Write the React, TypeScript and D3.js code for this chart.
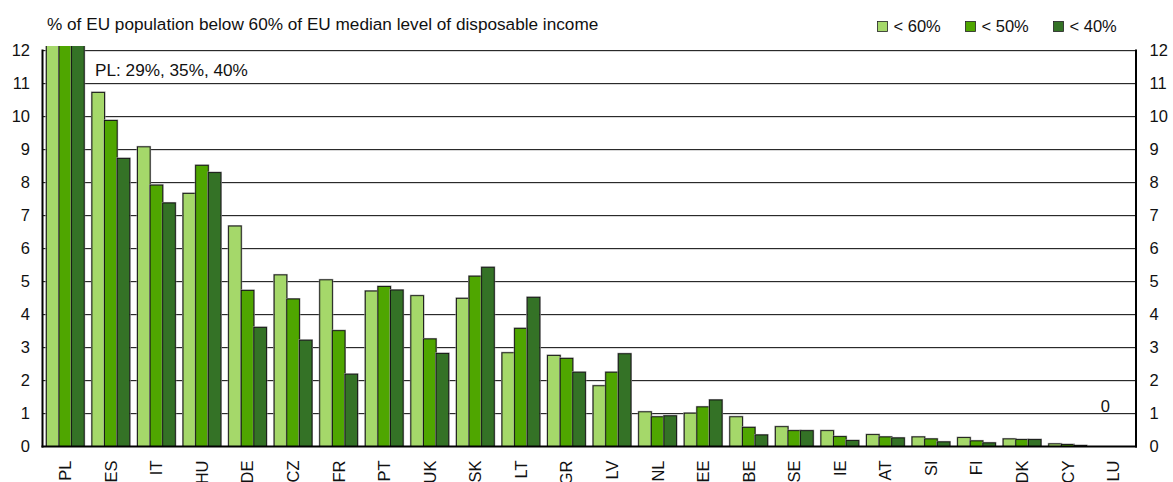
import React from "react";
import * as d3 from "d3";

const countries = ["PL","ES","IT","HU","DE","CZ","FR","PT","UK","SK","LT","GR","LV","NL","EE","BE","SE","IE","AT","SI","FI","DK","CY","LU"];
const seriesNames = ["< 60%", "< 50%", "< 40%"];
const below60 = [29, 10.73, 9.08, 7.67, 6.68, 5.2, 5.05, 4.71, 4.57, 4.49, 2.84, 2.76, 1.84, 1.05, 1.01, 0.9, 0.6, 0.48, 0.36, 0.29, 0.27, 0.23, 0.08, 0];
const below50 = [35, 9.88, 7.92, 8.52, 4.73, 4.47, 3.51, 4.85, 3.26, 5.16, 3.58, 2.67, 2.25, 0.9, 1.2, 0.58, 0.48, 0.3, 0.29, 0.23, 0.17, 0.21, 0.06, 0];
const below40 = [40, 8.73, 7.38, 8.3, 3.61, 3.22, 2.19, 4.74, 2.82, 5.43, 4.52, 2.25, 2.81, 0.93, 1.41, 0.35, 0.48, 0.18, 0.26, 0.14, 0.11, 0.21, 0.03, 0];
const yTicks = [0,1,2,3,4,5,6,7,8,9,10,11,12];
const colors = ["#a5d86a", "#4fa600", "#347226"];
const titleText = "% of EU population below 60% of EU median level of disposable income";
const plNote = "PL: 29%, 35%, 40%";
const luNote = "0";

const W = 1173, H = 482;
const L = 42.5, R = 1136, T = 50.5, B = 446.5;
const FONT = "'Liberation Sans', Arial, sans-serif";

export default function App() {
  const series = [below60, below50, below40];
  const x0 = d3.scaleBand().domain(countries).range([L, R]).paddingInner(0.17).paddingOuter(0.085);
  const x1 = d3.scaleBand().domain(seriesNames).range([0, x0.bandwidth()]);
  const y = d3.scaleLinear().domain([0, 12]).range([B, T]);
  const luCenter = (x0("LU") as number) + x0.bandwidth() / 2;

  return (
    <svg width={W} height={H} style={{ position: "absolute", left: 0, top: 0, background: "#fff" }} fontFamily={FONT}>
      <defs>
        <clipPath id="plot">
          <rect x={L} y={T - 4.5} width={R - L} height={B - T + 4.5} />
        </clipPath>
      </defs>
      <text x={47} y={29.5} fontSize={17.2} fill="#111">{titleText}</text>
      {/* legend */}
      {seriesNames.map((s, i) => (
        <g key={s} transform={`translate(${877.5 + i * 88},21.5)`}>
          <rect width={10} height={10} fill={colors[i]} stroke="#222" strokeWidth={0.8} />
          <text x={16} y={10.3} fontSize={16.5} fill="#111">{s}</text>
        </g>
      ))}
      {/* gridlines */}
      {yTicks.filter(t => t > 0).map(t => (
        <g key={t}>
          <line x1={L} x2={R} y1={y(t) + 1} y2={y(t) + 1} stroke="#d8d8d8" strokeWidth={1} />
          <line x1={L} x2={R} y1={y(t)} y2={y(t)} stroke="#2a2a2a" strokeWidth={1} />
        </g>
      ))}
      {/* bars */}
      <g clipPath="url(#plot)">
        {countries.map((c, ci) => (
          <g key={c} transform={`translate(${x0(c)},0)`}>
            {series.map((vals, si) => {
              const v = vals[ci];
              if (v <= 0) return null;
              const bx = x1(seriesNames[si]) as number;
              const bw = x1.bandwidth();
              const top = y(v);
              return (
                <g key={si}>
                  <rect x={bx - 0.5} y={top - 0.5} width={bw + 1} height={B - top + 0.5} fill="none" stroke="#9a9a9a" strokeWidth={1} />
                  <rect x={bx} y={top} width={bw} height={B - top} fill={colors[si]} stroke="#111" strokeWidth={0.9} />
                </g>
              );
            })}
          </g>
        ))}
      </g>
      {/* axes */}
      <line x1={L} x2={L} y1={T - 1} y2={B + 1} stroke="#000" strokeWidth={2} />
      <line x1={R} x2={R} y1={T - 1} y2={B + 1} stroke="#000" strokeWidth={2} />
      <line x1={L - 1} x2={R + 1} y1={B} y2={B} stroke="#000" strokeWidth={2} />
      {yTicks.map(t => (
        <g key={t}>
          <text x={30} y={y(t)} dy="0.36em" textAnchor="end" fontSize={16.5} fill="#111">{t}</text>
          <text x={1149.5} y={y(t)} dy="0.36em" textAnchor="start" fontSize={16.5} fill="#111">{t}</text>
        </g>
      ))}
      {/* category labels */}
      {countries.map(c => {
        const cx = (x0(c) as number) + x0.bandwidth() / 2;
        return (
          <text key={c} transform={`translate(${cx},460.5) rotate(-90)`} dy="0.36em" textAnchor="end" fontSize={16.5} fill="#111">{c}</text>
        );
      })}
      <text x={95} y={75.5} fontSize={17.2} fill="#111">{plNote}</text>
      <text x={luCenter - 8} y={411.5} textAnchor="middle" fontSize={16.5} fill="#111">{luNote}</text>
    </svg>
  );
}
